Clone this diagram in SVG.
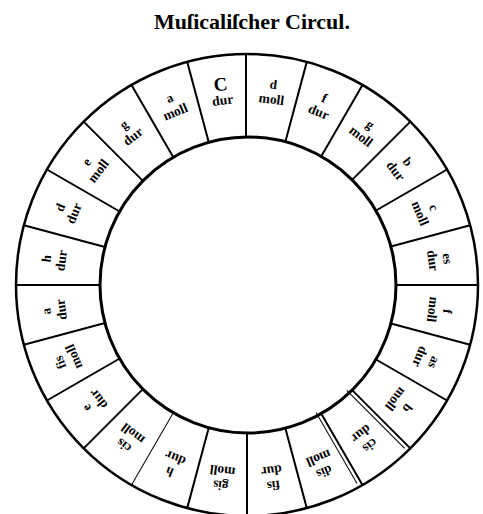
<svg xmlns="http://www.w3.org/2000/svg" width="483" height="514" viewBox="0 0 483 514">
<style>
.bg{fill:#fff}
.ring{fill:none;stroke:#000}
.div{stroke:#000;stroke-width:2}
.thin{stroke:#000;stroke-width:1}
text{font-family:"Liberation Serif","DejaVu Serif",serif;fill:#000;text-anchor:middle}
.k{font-size:13px;font-weight:bold}
.kc{font-size:19px;font-weight:bold}
.m{font-size:13.5px;font-weight:bold}
.title{font-size:22px;font-weight:bold}
</style>
<rect class="bg" x="0" y="0" width="483" height="514"/>
<text class="title" x="252" y="29">Muſicaliſcher Circul.</text>
<g id="connectors">
<circle class="ring" cx="247" cy="285" r="231" stroke-width="2.5"/>
<circle class="ring" cx="248" cy="285" r="148" stroke-width="3"/>
<line class="div" x1="246" y1="138" x2="246" y2="54" transform="rotate(0 247 285)"/>
<line class="div" x1="247" y1="137" x2="247" y2="54" transform="rotate(15 247 285)"/>
<line class="div" x1="247" y1="137" x2="247" y2="54" transform="rotate(30 247 285)"/>
<line class="div" x1="247" y1="137" x2="247" y2="54" transform="rotate(45 247 285)"/>
<line class="div" x1="247" y1="137" x2="247" y2="54" transform="rotate(60 247 285)"/>
<line class="div" x1="247" y1="137" x2="247" y2="54" transform="rotate(75 247 285)"/>
<line class="div" x1="247" y1="137" x2="247" y2="54" transform="rotate(90 247 285)"/>
<line class="div" x1="247" y1="137" x2="247" y2="54" transform="rotate(105 247 285)"/>
<line class="div" x1="247" y1="137" x2="247" y2="54" transform="rotate(120 247 285)"/>
<line class="div" x1="247" y1="137" x2="247" y2="54" transform="rotate(135 247 285)"/>
<line class="thin" x1="251" y1="140" x2="251" y2="58" transform="rotate(135 247 285)"/>
<line class="div" x1="247" y1="137" x2="247" y2="54" transform="rotate(150 247 285)"/>
<line class="thin" x1="251" y1="140" x2="251" y2="58" transform="rotate(150 247 285)"/>
<line class="div" x1="247" y1="137" x2="247" y2="54" transform="rotate(165 247 285)"/>
<line class="div" x1="247" y1="137" x2="247" y2="54" transform="rotate(180 247 285)"/>
<line class="div" x1="247" y1="137" x2="247" y2="54" transform="rotate(195 247 285)"/>
<line class="thin" x1="247" y1="137" x2="247" y2="54" transform="rotate(210 247 285)"/>
<line class="div" x1="247" y1="137" x2="247" y2="54" transform="rotate(225 247 285)"/>
<line class="div" x1="247" y1="137" x2="247" y2="54" transform="rotate(240 247 285)"/>
<line class="div" x1="247" y1="137" x2="247" y2="54" transform="rotate(255 247 285)"/>
<line class="div" x1="247" y1="137" x2="247" y2="54" transform="rotate(270 247 285)"/>
<line class="div" x1="247" y1="137" x2="247" y2="54" transform="rotate(285 247 285)"/>
<line class="div" x1="247" y1="137" x2="247" y2="54" transform="rotate(300 247 285)"/>
<line class="div" x1="247" y1="137" x2="247" y2="54" transform="rotate(315 247 285)"/>
<line class="div" x1="247" y1="137" x2="247" y2="54" transform="rotate(330 247 285)"/>
<line class="div" x1="247" y1="137" x2="247" y2="54" transform="rotate(345 247 285)"/>
</g>
<g id="n0" transform="rotate(-7.5 247 285)"><text class="kc" x="247" y="89">C</text><text class="m" x="247" y="103">dur</text></g>
<g id="n1" transform="rotate(7.5 247 285)"><text class="k" x="247" y="87">d</text><text class="m" x="247" y="102">moll</text></g>
<g id="n2" transform="rotate(22.5 247 285)"><text class="k" x="247" y="87">f</text><text class="m" x="247" y="102">dur</text></g>
<g id="n3" transform="rotate(37.5 247 285)"><text class="k" x="247" y="87">g</text><text class="m" x="247" y="102">moll</text></g>
<g id="n4" transform="rotate(52.5 247 285)"><text class="k" x="247" y="87">b</text><text class="m" x="247" y="102">dur</text></g>
<g id="n5" transform="rotate(67.5 247 285)"><text class="k" x="247" y="87">c</text><text class="m" x="247" y="102">moll</text></g>
<g id="n6" transform="rotate(82.5 247 285)"><text class="k" x="247" y="87">es</text><text class="m" x="247" y="102">dur</text></g>
<g id="n7" transform="rotate(97.5 247 285)"><text class="k" x="247" y="87">f</text><text class="m" x="247" y="102">moll</text></g>
<g id="n8" transform="rotate(112.5 247 285)"><text class="k" x="247" y="87">as</text><text class="m" x="247" y="102">dur</text></g>
<g id="n9" transform="rotate(127.5 247 285)"><text class="k" x="247" y="87">b</text><text class="m" x="247" y="102">moll</text></g>
<g id="n10" transform="rotate(142.5 247 285)"><text class="k" x="247" y="87">cis</text><text class="m" x="247" y="102">dur</text></g>
<g id="n11" transform="rotate(157.5 247 285)"><text class="k" x="247" y="87">dis</text><text class="m" x="247" y="102">moll</text></g>
<g id="n12" transform="rotate(172.5 247 285)"><text class="k" x="247" y="87">fis</text><text class="m" x="247" y="102">dur</text></g>
<g id="n13" transform="rotate(187.5 247 285)"><text class="k" x="247" y="87">gis</text><text class="m" x="247" y="102">moll</text></g>
<g id="n14" transform="rotate(202.5 247 285)"><text class="k" x="247" y="87">h</text><text class="m" x="247" y="102">dur</text></g>
<g id="n15" transform="rotate(217.5 247 285)"><text class="k" x="247" y="87">cis</text><text class="m" x="247" y="102">moll</text></g>
<g id="n16" transform="rotate(232.5 247 285)"><text class="k" x="247" y="87">e</text><text class="m" x="247" y="102">dur</text></g>
<g id="n17" transform="rotate(247.5 247 285)"><text class="k" x="247" y="87">fis</text><text class="m" x="247" y="102">moll</text></g>
<g id="n18" transform="rotate(262.5 247 285)"><text class="k" x="247" y="87">a</text><text class="m" x="247" y="102">dur</text></g>
<g id="n19" transform="rotate(277.5 247 285)"><text class="k" x="247" y="87">h</text><text class="m" x="247" y="102">dur</text></g>
<g id="n20" transform="rotate(292.5 247 285)"><text class="k" x="247" y="87">d</text><text class="m" x="247" y="102">dur</text></g>
<g id="n21" transform="rotate(307.5 247 285)"><text class="k" x="247" y="87">e</text><text class="m" x="247" y="102">moll</text></g>
<g id="n22" transform="rotate(322.5 247 285)"><text class="k" x="247" y="87">g</text><text class="m" x="247" y="102">dur</text></g>
<g id="n23" transform="rotate(337.5 247 285)"><text class="k" x="247" y="87">a</text><text class="m" x="247" y="102">moll</text></g>
</svg>
